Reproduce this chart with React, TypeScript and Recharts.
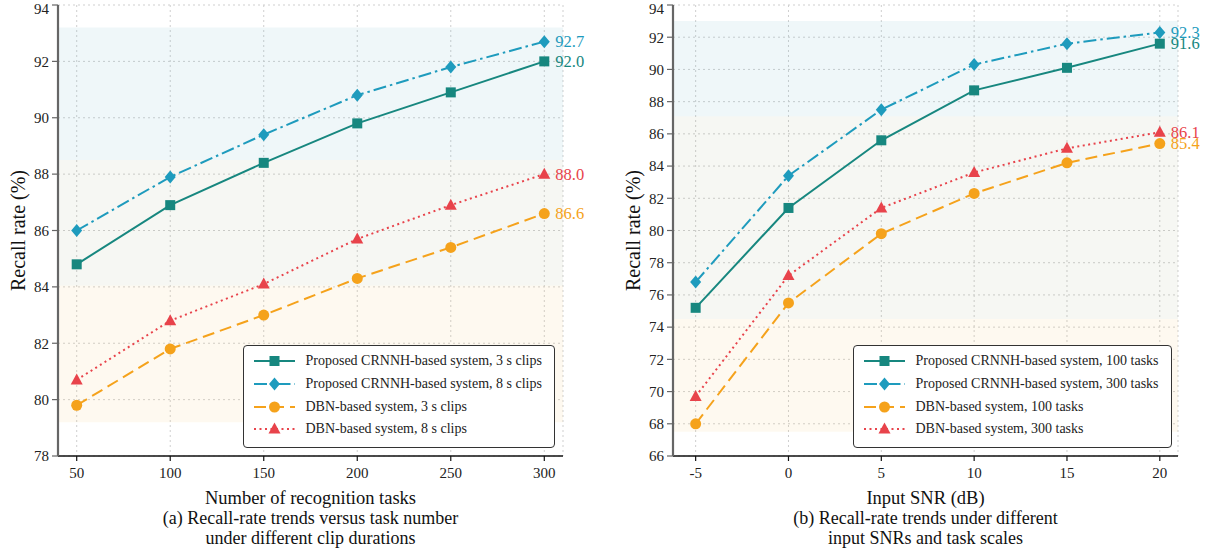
import React from "react";
import {
  LineChart,
  Line,
  XAxis,
  YAxis,
  CartesianGrid,
  ReferenceArea,
  Legend,
  LabelList,
} from "recharts";

const FONT = '"Liberation Serif", "Times New Roman", serif';

// (a) recall rate vs number of recognition tasks
const taskCounts = [50, 100, 150, 200, 250, 300];
const crnnh3s = [84.8, 86.9, 88.4, 89.8, 90.9, 92.0];
const crnnh8s = [86.0, 87.9, 89.4, 90.8, 91.8, 92.7];
const dbn3s = [79.8, 81.8, 83.0, 84.3, 85.4, 86.6];
const dbn8s = [80.7, 82.8, 84.1, 85.7, 86.9, 88.0];
const taskYTicks = [78, 80, 82, 84, 86, 88, 90, 92, 94];
const taskNames = [
  "Proposed CRNNH-based system, 3 s clips",
  "Proposed CRNNH-based system, 8 s clips",
  "DBN-based system, 3 s clips",
  "DBN-based system, 8 s clips",
];
const taskBands = [93.2, 88.5, 84.05, 79.2];

// (b) recall rate vs input SNR
const snrLevels = [-5, 0, 5, 10, 15, 20];
const crnnh100 = [75.2, 81.4, 85.6, 88.7, 90.1, 91.6];
const crnnh300 = [76.8, 83.4, 87.5, 90.3, 91.6, 92.3];
const dbn100 = [68.0, 75.5, 79.8, 82.3, 84.2, 85.4];
const dbn300 = [69.7, 77.2, 81.4, 83.6, 85.1, 86.1];
const snrYTicks = [66, 68, 70, 72, 74, 76, 78, 80, 82, 84, 86, 88, 90, 92, 94];
const snrNames = [
  "Proposed CRNNH-based system, 100 tasks",
  "Proposed CRNNH-based system, 300 tasks",
  "DBN-based system, 100 tasks",
  "DBN-based system, 300 tasks",
];
const snrBands = [93.0, 87.1, 74.5, 67.5];

const bandFills = ["#5fb3c4", "#8a9560", "#f2c96a"];
const bandOpacity = [0.1, 0.08, 0.1];

const seriesStyles = [
  { color: "#17877f", dash: undefined as string | undefined, shape: "square" },
  { color: "#1e9bbd", dash: "13 4 2.5 4", shape: "diamond" },
  { color: "#f5a21b", dash: "12 6", shape: "circle" },
  { color: "#e8434b", dash: "2 3.5", shape: "triangle" },
];

function Marker({ cx, cy, shape, color }: any) {
  if (cx == null || cy == null) return null;
  if (shape === "square")
    return <rect x={cx - 5} y={cy - 5} width={10} height={10} fill={color} />;
  if (shape === "diamond")
    return (
      <path
        d={`M${cx},${cy - 6.5}L${cx + 5.5},${cy}L${cx},${cy + 6.5}L${cx - 5.5},${cy}Z`}
        fill={color}
      />
    );
  if (shape === "circle") return <circle cx={cx} cy={cy} r={5.5} fill={color} />;
  return (
    <path
      d={`M${cx},${cy - 6.5}L${cx + 6},${cy + 4.5}L${cx - 6},${cy + 4.5}Z`}
      fill={color}
    />
  );
}

function LegendBox({ names, width }: { names: string[]; width: number }) {
  return (
    <div
      style={{
        width,
        height: 103,
        boxSizing: "border-box",
        border: "1.5px solid #333",
        borderRadius: 4,
        background: "#fff",
        paddingTop: 4,
        fontFamily: FONT,
        fontSize: 14,
        color: "#222",
      }}
    >
      {names.map((n, i) => {
        const s = seriesStyles[i];
        return (
          <div key={n} style={{ display: "flex", alignItems: "center", height: 22.7 }}>
            <svg width={41} height={16} style={{ marginLeft: 9.5, marginRight: 11 }}>
              <line
                x1={0}
                y1={8}
                x2={41}
                y2={8}
                stroke={s.color}
                strokeWidth={2}
                strokeDasharray={s.dash}
              />
              <Marker cx={20.5} cy={8} shape={s.shape} color={s.color} />
            </svg>
            <span style={{ whiteSpace: "nowrap" }}>{n}</span>
          </div>
        );
      })}
    </div>
  );
}

interface PanelProps {
  left: number;
  xs: number[];
  series: number[][];
  names: string[];
  bands: number[];
  domainX: [number, number];
  domainY: [number, number];
  yTicks: number[];
  xTitle: string;
  caption: string[];
  legendLeft: number;
  legendWidth: number;
}

function Panel(p: PanelProps) {
  const data = p.xs.map((x, i) => ({
    x,
    s0: p.series[0][i],
    s1: p.series[1][i],
    s2: p.series[2][i],
    s3: p.series[3][i],
  }));
  const last = p.xs.length - 1;

  return (
    <div style={{ position: "absolute", left: p.left, top: 0 }}>
      <LineChart
        width={600}
        height={553}
        data={data}
        margin={{ top: 5, right: 37, bottom: 0, left: 0 }}
      >
        {[0, 1, 2].map((i) => (
          <ReferenceArea
            key={i}
            y1={p.bands[i + 1]}
            y2={p.bands[i]}
            fill={bandFills[i]}
            fillOpacity={bandOpacity[i]}
            stroke="none"
          />
        ))}
        <CartesianGrid strokeDasharray="2 3" stroke="#cfcfcf" />
        <XAxis
          type="number"
          dataKey="x"
          domain={p.domainX}
          ticks={p.xs}
          height={97}
          tickSize={5}
          tickMargin={6}
          tick={{ fontSize: 15, fill: "#222", fontFamily: FONT }}
          axisLine={{ stroke: "#111", strokeWidth: 1.5 }}
          tickLine={{ stroke: "#111", strokeWidth: 1.2 }}
          label={(lp: any) => {
            const vb = lp.viewBox || {};
            const cx = vb.x + vb.width / 2;
            return (
              <g fontFamily={FONT} fill="#111" textAnchor="middle">
                <text x={cx} y={vb.y + 42} fontSize={18.5} dominantBaseline="central">
                  {p.xTitle}
                </text>
                {p.caption.map((c, i) => (
                  <text
                    key={c}
                    x={cx}
                    y={vb.y + 62 + i * 20}
                    fontSize={18}
                    dominantBaseline="central"
                  >
                    {c}
                  </text>
                ))}
              </g>
            );
          }}
        />
        <YAxis
          type="number"
          domain={p.domainY}
          ticks={p.yTicks}
          width={58}
          tickSize={6}
          tickMargin={3}
          tick={{ fontSize: 15, fill: "#222", fontFamily: FONT }}
          axisLine={{ stroke: "#666", strokeWidth: 2.2 }}
          tickLine={{ stroke: "#666", strokeWidth: 1.2 }}
          label={(lp: any) => {
            const vb = lp.viewBox || {};
            const cy = vb.y + vb.height / 2;
            return (
              <text
                x={18}
                y={cy}
                transform={`rotate(-90 18 ${cy})`}
                textAnchor="middle"
                dominantBaseline="central"
                fontFamily={FONT}
                fontSize={20}
                fill="#111"
              >
                Recall rate (%)
              </text>
            );
          }}
        />
        <Legend
          layout="vertical"
          align="center"
          verticalAlign="middle"
          wrapperStyle={{ left: p.legendLeft, top: 345, width: p.legendWidth, height: 103 }}
          content={() => <LegendBox names={p.names} width={p.legendWidth} />}
        />
        {seriesStyles.map((s, i) => (
          <Line
            key={i}
            type="linear"
            dataKey={`s${i}`}
            name={p.names[i]}
            stroke={s.color}
            strokeWidth={2}
            strokeDasharray={s.dash}
            isAnimationActive={false}
            dot={(d: any) => (
              <Marker key={`m${i}-${d.index}`} cx={d.cx} cy={d.cy} shape={s.shape} color={s.color} />
            )}
            activeDot={false}
          >
            <LabelList
              dataKey={`s${i}`}
              content={(lp: any) =>
                lp.index === last ? (
                  <text
                    x={lp.x + 11}
                    y={lp.y}
                    dominantBaseline="central"
                    fontFamily={FONT}
                    fontSize={16.5}
                    fill={s.color}
                  >
                    {Number(lp.value).toFixed(1)}
                  </text>
                ) : null
              }
            />
          </Line>
        ))}
      </LineChart>
    </div>
  );
}

export default function App() {
  return (
    <div
      style={{
        position: "absolute",
        left: 0,
        top: 0,
        width: 1214,
        height: 553,
        background: "#fff",
        overflow: "hidden",
      }}
    >
      <Panel
        left={0}
        xs={taskCounts}
        series={[crnnh3s, crnnh8s, dbn3s, dbn8s]}
        names={taskNames}
        bands={taskBands}
        domainX={[40, 310]}
        domainY={[78, 94]}
        yTicks={taskYTicks}
        xTitle="Number of recognition tasks"
        caption={["(a) Recall-rate trends versus task number", "under different clip durations"]}
        legendLeft={243}
        legendWidth={312}
      />
      <Panel
        left={615}
        xs={snrLevels}
        series={[crnnh100, crnnh300, dbn100, dbn300]}
        names={snrNames}
        bands={snrBands}
        domainX={[-6.22, 20.98]}
        domainY={[66, 94]}
        yTicks={snrYTicks}
        xTitle="Input SNR (dB)"
        caption={["(b) Recall-rate trends under different", "input SNRs and task scales"]}
        legendLeft={238}
        legendWidth={319}
      />
    </div>
  );
}
